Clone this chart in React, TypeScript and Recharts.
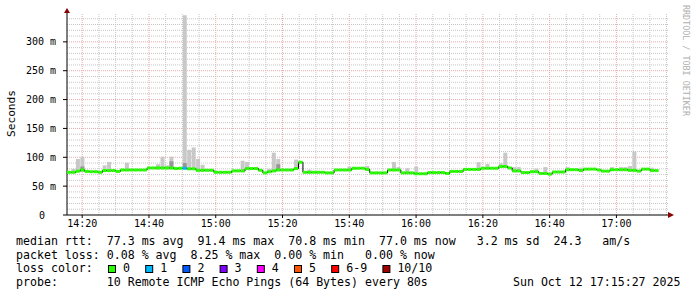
import React from 'react';
import { ComposedChart, Bar, Line, XAxis, YAxis, Cell, ReferenceLine } from 'recharts';

const W = 697;
const H = 297;
const MONO = "'DejaVu Sans Mono', 'Liberation Mono', monospace";

// 80 s probe steps from 14:15:27 to 17:15:27, time in minutes after 14:00
const START_MIN = 15.45;
const STEP_MIN = 80 / 60;

// median rtt per step (ms)
const MEDIAN_MS = [
  74, 74, 76, 78, 75.5, 75, 75, 74, 77, 77,
  77, 75.5, 78, 78, 78, 78, 78, 78, 81.5, 81.5,
  81.5, 81.5, 81.5, 81.5, 80.5, 81, 81, 80, 80, 77.5,
  77.5, 77.5, 77.5, 74, 74, 74, 74, 76.5, 76.5, 76.5,
  80.5, 80.5, 80.5, 77.5, 73, 75, 76.5, 78, 78, 78,
  78, 80.5, 91.4, 74, 74, 74, 74, 74, 73, 73,
  78, 78, 78, 78, 81, 81, 81, 79, 73, 73,
  73, 73, 78, 78, 78, 73, 73, 73, 71.5, 71.5,
  71.5, 73.5, 73.5, 73.5, 73.5, 72, 75.5, 75.5, 75.5, 79,
  79, 79, 79, 81, 81, 81, 81, 84, 84, 81.5,
  76.5, 76.5, 73.5, 73.5, 75, 75, 72, 72, 70.8, 74.5,
  74.5, 74.5, 78.5, 78.5, 78.5, 77, 79.5, 79.5, 79.5, 78,
  76, 76, 78.5, 78.5, 78.5, 78.5, 77.5, 77.5, 76, 79.5,
  79.5, 77, 77, null, null,
];

// smoke (spread of the 10 pings) where it shows above the median
const SMOKE_STEP = [1, 2, 3, 8, 9, 13, 20, 21, 22, 23, 26, 27, 28, 29, 30, 39, 40, 45, 46, 47, 51, 54, 63, 67, 73, 74, 76, 78, 92, 94, 97, 98, 100, 101, 105, 107, 112, 115, 122, 124, 125, 126, 127, 131];
const SMOKE_MIN_MS = [72, 74, 75, 75, 75, 76, 79, 79, 79, 79, 79, 78, 78, 75, 75, 74, 78, 73, 74, 76, 78, 72, 76, 77, 76, 76, 71, 70, 77, 79, 82, 82, 74, 74, 73, 70, 76, 75, 76, 76, 76, 75, 75, 75];
const SMOKE_MAX_MS = [80, 97, 101, 86, 92, 90.5, 88, 101, 86, 101, 346, 113, 117, 97, 87, 94, 92, 80, 108, 97, 96, 78.5, 84, 85, 92, 83, 81, 84, 91.5, 88.5, 89.5, 108, 83, 83, 80.5, 83, 83, 82, 83, 83, 83, 85, 110, 82];

// darker inner smoke
const DARK_STEP = [3, 23, 26, 47];
const DARK_MIN_MS = [76, 80, 80, 77];
const DARK_MAX_MS = [84, 93, 90, 88];

// lost pings (of 10) per step
const LOSS_STEP = [26];
const LOSS_COUNT = [1];

const Y_TICKS = [0, 50, 100, 150, 200, 250, 300];
const X_TICKS = [20, 40, 60, 80, 100, 120, 140, 160, 180];

const LOSS_COLORS = ['#26ff00', '#00b8ff', '#0059ff', '#7e00ff', '#ff00ff', '#ff5500', '#ff0000', '#a10000'];
const LOSS_LABELS = ['0', '1', '2', '3', '4', '5', '6-9', '10/10'];

const LEGEND_RTT = 'median rtt:  77.3 ms avg  91.4 ms max  70.8 ms min  77.0 ms now   3.2 ms sd  24.3   am/s';
const LEGEND_LOSS = 'packet loss: 0.08 % avg  8.25 % max  0.00 % min   0.00 % now';
const LEGEND_PROBE = 'probe:       10 Remote ICMP Echo Pings (64 Bytes) every 80s';
const STAMP = 'Sun Oct 12 17:15:27 2025';

const HALF = 2.6; // half thickness of the median band (ms)

const lossColor = (n: number) => LOSS_COLORS[n >= 10 ? 7 : n >= 6 ? 6 : n];

const rows = MEDIAN_MS.map((m, i) => {
  const s = SMOKE_STEP.indexOf(i);
  const d = DARK_STEP.indexOf(i);
  const l = LOSS_STEP.indexOf(i);
  return {
    t: START_MIN + (i + 0.5) * STEP_MIN,
    med: m,
    band: m == null ? null : [m - HALF, m + HALF],
    smoke: s < 0 ? null : [SMOKE_MIN_MS[s], SMOKE_MAX_MS[s]],
    dark: d < 0 ? null : [DARK_MIN_MS[d], DARK_MAX_MS[d]],
    loss: l < 0 ? 0 : LOSS_COUNT[l],
  };
});

const X_DOMAIN = [START_MIN, START_MIN + 180];
const Y_DOMAIN = [0, 350];

const minorY = Array.from({ length: 34 }, (_, k) => (k + 1) * 10).filter(v => v % 50 !== 0);
const majorY = [50, 100, 150, 200, 250, 300];
const minorX = Array.from({ length: 36 }, (_, k) => 20 + k * 5).filter(v => v % 20 !== 0);

const fmtTime = (t: number) => `${14 + Math.floor(t / 60)}:${String(Math.round(t % 60)).padStart(2, '0')}`;

const YTick = ({ x, y, payload }: any) => (
  <text x={payload.value === 0 ? x - 11 : x} y={y} dy={3.5} textAnchor="end" fontFamily={MONO} fontSize={10} fill="#000">
    {payload.value === 0 ? '0' : `${payload.value} m`}
  </text>
);

const txt = { fontFamily: MONO, fontSize: 11.6, fill: '#000', style: { whiteSpace: 'pre' as const } };

const MINOR = '#c6c6c6';
const MAJOR = '#e9aaaa';

export default function App() {
  return (
    <div style={{ position: 'absolute', left: 0, top: 0, width: W, height: H, background: '#fff' }}>
      <ComposedChart width={W} height={H} data={rows} margin={{ top: 13, right: 29, bottom: 62, left: 0 }}>
        <XAxis
          dataKey="t" type="number" domain={X_DOMAIN} ticks={X_TICKS} allowDataOverflow
          tickFormatter={fmtTime} height={20} tickSize={3} tickMargin={2}
          axisLine={{ stroke: '#000' }} tickLine={{ stroke: '#000' }}
          tick={{ fontFamily: MONO, fontSize: 10, fill: '#000' }}
        />
        <YAxis
          type="number" domain={Y_DOMAIN} ticks={Y_TICKS} allowDataOverflow width={67}
          tickSize={4} tickMargin={7} axisLine={{ stroke: '#000' }} tickLine={{ stroke: '#000' }}
          tick={<YTick />}
        />
        <XAxis xAxisId="s" dataKey="t" type="number" domain={X_DOMAIN} hide allowDataOverflow />
        <YAxis yAxisId="s" type="number" domain={Y_DOMAIN} hide allowDataOverflow />
        <XAxis xAxisId="d" dataKey="t" type="number" domain={X_DOMAIN} hide allowDataOverflow />
        <YAxis yAxisId="d" type="number" domain={Y_DOMAIN} hide allowDataOverflow />
        <XAxis xAxisId="b" dataKey="t" type="number" domain={X_DOMAIN} hide allowDataOverflow />
        <YAxis yAxisId="b" type="number" domain={Y_DOMAIN} hide allowDataOverflow />
        {minorY.map(v => (
          <ReferenceLine key={`my${v}`} y={v} stroke={MINOR} strokeDasharray="1 1" zIndex={-100} />
        ))}
        {minorX.map(v => (
          <ReferenceLine key={`mx${v}`} x={v} stroke={MINOR} strokeDasharray="1 1" zIndex={-100} />
        ))}
        {majorY.map(v => (
          <ReferenceLine key={`Y${v}`} y={v} stroke={MAJOR} strokeDasharray="1 1" zIndex={-90} />
        ))}
        {X_TICKS.map(v => (
          <ReferenceLine key={`X${v}`} x={v} stroke={MAJOR} strokeDasharray="1 1" zIndex={-90} />
        ))}
        <Bar xAxisId="s" yAxisId="s" dataKey="smoke" fill="#c8c8c8" barSize={5} isAnimationActive={false} zIndex={300} />
        <Bar xAxisId="d" yAxisId="d" dataKey="dark" fill="#969696" barSize={5} isAnimationActive={false} zIndex={301} />
        <Line dataKey="med" type="step" stroke="#000" strokeWidth={1} dot={false} activeDot={false} isAnimationActive={false} zIndex={400} />
        <Bar xAxisId="b" yAxisId="b" dataKey="band" barSize={5} isAnimationActive={false} zIndex={500}>
          {rows.map((r, i) => (
            <Cell key={`c-${i}`} fill={lossColor(r.loss)} />
          ))}
        </Bar>
      </ComposedChart>
      <svg width={W} height={H} style={{ position: 'absolute', left: 0, top: 0, pointerEvents: 'none' }}>
        <polygon points="64,13 70,13 67,8" fill="#880000" />
        <line x1={668} y1={215} x2={670} y2={215} stroke="#000" />
        <polygon points="668,212 668,218 674,215" fill="#880000" />
        <text transform="translate(15,113.5) rotate(-90)" textAnchor="middle" fontFamily={MONO} fontSize={11.2} fill="#000">
          Seconds
        </text>
        <text transform="translate(683,5) rotate(90)" fontFamily={MONO} fontSize={8.4} fill="#b0b0b0">
          RRDTOOL / TOBI OETIKER
        </text>
        <text x={16} y={244.7} {...txt}>{LEGEND_RTT}</text>
        <text x={16} y={258.5} {...txt}>{LEGEND_LOSS}</text>
        <text x={16} y={272.3} {...txt}>loss color:</text>
        {LOSS_LABELS.map((lab, k) => {
          const x = 108.5 + k * 37.2 + (k === 7 ? 14 : 0);
          return (
            <g key={lab}>
              <rect x={x} y={265.5} width={7} height={7} fill={LOSS_COLORS[k]} stroke="#000" strokeWidth={1} />
              <text x={x + 14.5} y={272.3} {...txt}>{lab}</text>
            </g>
          );
        })}
        <text x={16} y={286.2} {...txt}>{LEGEND_PROBE}</text>
        <text x={680.5} y={286.2} textAnchor="end" {...txt}>{STAMP}</text>
      </svg>
    </div>
  );
}
